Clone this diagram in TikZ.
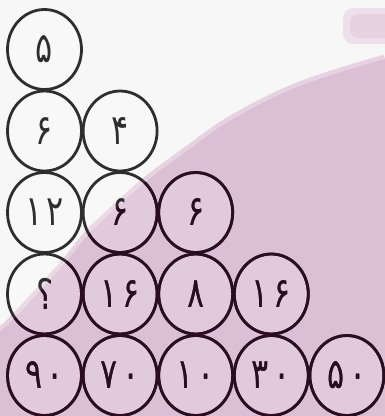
\documentclass[tikz,border=0pt]{standalone}
\usepackage{fontspec}
\usepackage{graphicx}
\newfontfamily\persian[Script=Arabic]{DejaVu Sans}
\usetikzlibrary{shapes.geometric}
\definecolor{bgwhite}{HTML}{F7F7F7}
\definecolor{bgpink}{HTML}{DBBFD4}
\definecolor{edgepink}{HTML}{E6D2E0}
\definecolor{blobpink}{HTML}{EEE0EA}
\definecolor{linegrey}{HTML}{2E2E2E}
\definecolor{linepurple}{HTML}{2B0D22}
\tikzset{
  cell/.style={ellipse, minimum width=74pt, minimum height=80pt, inner sep=0pt,
    line width=2.8pt, font=\persian\fontsize{42}{42}\selectfont},
}
\newcommand\pinkregion{plot[smooth,tension=0.6] coordinates{(0,331) (10,323) (40,291) (67,261) (87,236) (100,223) (143,184) (187,151) (233,119) (300,86) (385,59)} -- (385,420) -- (-2,420) -- cycle}
\newcommand\dg[2]{#1\hspace{6pt}#2}
\newcommand\cellset[3]{%
  \foreach \c/\r/\t in {1/1/۵, 1/2/۶, 2/2/۴, 1/3/\dg{۱}{۲}, 2/3/۶, 3/3/۶, 1/4/؟, 2/4/\dg{۱}{۶}, 3/4/۸, 4/4/\dg{۱}{۶}, 1/5/\dg{۹}{۰}, 2/5/\dg{۷}{۰}, 3/5/\dg{۱}{۰}, 4/5/\dg{۳}{۰}, 5/5/\dg{۵}{۰}}
    \node[cell, draw=#2, text=#2, #3] (#1-\r-\c) at ({44.5+(\c-1)*75.6},{49.5+(\r-1)*81.5}) {\raisebox{-3pt}{\scalebox{0.76}[1]{\t}}};%
}
\begin{document}
\begin{tikzpicture}[x=1pt,y=-1pt]
\useasboundingbox (0,0) rectangle (385,416);
\fill[bgwhite] (0,0) rectangle (385,416);
% smudge top right
\fill[blobpink, rounded corners=10pt] (343,8) rectangle (395,44);
\fill[edgepink, rounded corners=8pt] (350,14) rectangle (395,38);
% pink region with soft edge
\draw[edgepink, line width=9pt] plot[smooth,tension=0.6] coordinates{(0,331) (10,323) (40,291) (67,261) (87,236) (100,223) (143,184) (187,151) (233,119) (300,86) (385,59)};
\fill[bgpink] \pinkregion;
% circles, base layer
\cellset{c}{linegrey}{fill=white, fill opacity=0.18, text opacity=1}
% circles recoloured where they lie over the pink region
\begin{scope}
\clip \pinkregion;
\cellset{p}{linepurple}{}
\end{scope}
\end{tikzpicture}
\end{document}
